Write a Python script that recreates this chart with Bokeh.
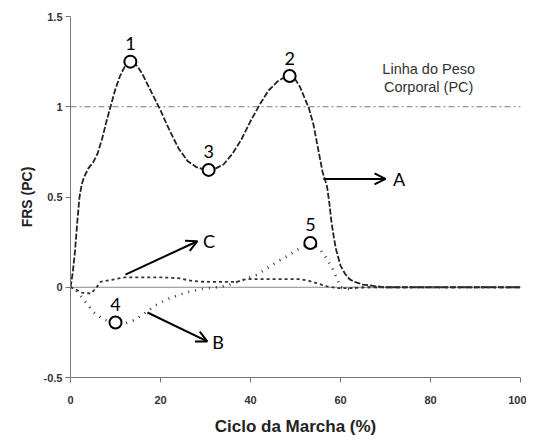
from bokeh.plotting import figure
from bokeh.models import Range1d, Arrow, OpenHead, ColumnDataSource, FixedTicker
from bokeh.core.properties import value
from bokeh.embed import file_html
from bokeh.resources import INLINE

# Curve A (vertical GRF)
a_x = [0, 0.5, 1, 1.5, 2, 2.5, 3, 4, 5, 6, 7, 8, 9, 10, 11, 12, 13, 14, 15, 16, 17, 18, 19, 20,
       22, 24, 26, 28, 30, 31, 32, 34, 36, 38, 40, 42, 44, 46, 48, 49, 50, 51, 52, 53, 54, 55, 56,
       57, 57.5, 58, 58.5, 59, 60, 61, 62, 63, 65, 68, 70, 100]
a_y = [0, 0.08, 0.2, 0.36, 0.5, 0.57, 0.61, 0.66, 0.69, 0.74, 0.82, 0.92, 1.01, 1.1, 1.17, 1.22, 1.25, 1.245, 1.22, 1.18, 1.13, 1.08, 1.03, 0.98,
       0.87, 0.77, 0.7, 0.665, 0.65, 0.65, 0.655, 0.68, 0.74, 0.82, 0.92, 1.01, 1.09, 1.14, 1.17, 1.17, 1.15, 1.11, 1.05, 0.99, 0.9, 0.77, 0.64,
       0.56, 0.47, 0.36, 0.28, 0.21, 0.12, 0.075, 0.045, 0.03, 0.015, 0.005, 0, 0]

# Curve B (dotted)
b_x = [0, 1, 2, 3.3, 5.2, 7.4, 10, 12.2, 14.4, 16.7, 18.9, 21.1, 23.3, 25.6, 28.1, 30.4, 32.7, 35, 37,
       38.9, 41.5, 44, 46.2, 48.7, 50.9, 53.3, 55.3, 56.9, 58.2, 59.3, 60, 62, 64, 100]
b_y = [0, -0.01, -0.04, -0.08, -0.14, -0.18, -0.195, -0.2, -0.18, -0.14, -0.1, -0.07, -0.05, -0.03, -0.015, -0.005, 0, 0.01, 0.03,
       0.045, 0.07, 0.11, 0.145, 0.18, 0.215, 0.245, 0.215, 0.16, 0.105, 0.045, 0, -0.01, 0, 0]

# Curve C (dashed)
c_x = [0, 1, 2.5, 4.5, 5.5, 6.7, 9, 12, 16, 20, 24, 27, 30, 34, 37, 39, 45, 51, 53, 55, 57, 59.5, 62, 66, 100]
c_y = [0, -0.01, -0.03, -0.035, -0.01, 0.03, 0.04, 0.055, 0.055, 0.055, 0.05, 0.035, 0.03, 0.03, 0.03, 0.045, 0.045, 0.045, 0.035, 0.02, 0.005, -0.005, -0.005, 0, 0]

# Marked points
pt_x = [13.3, 48.7, 30.7, 10, 53.3]
pt_y = [1.25, 1.17, 0.65, -0.195, 0.245]
pt_lbl = ["1", "2", "3", "4", "5"]

# Arrows and their letters
arr_x0 = [56.2, 12.2, 17.1]
arr_y0 = [0.6, 0.07, -0.14]
arr_x1 = [70, 28.2, 30.4]
arr_y1 = [0.6, 0.255, -0.3]
arr_lbl = ["A", "C", "B"]
arr_lx = [73, 30.8, 32.8]
arr_ly = [0.6, 0.255, -0.305]

x_ticks = [0, 20, 40, 60, 80, 100]
y_ticks = [-0.5, 0, 0.5, 1, 1.5]
y_tick_lbl = {-0.5: "-0.5", 0: "0", 0.5: "0.5", 1: "1", 1.5: "1.5"}

p = figure(width=526, height=439, output_backend="svg", toolbar_location=None,
           x_range=Range1d(0, 100), y_range=Range1d(-0.5, 1.5),
           min_border_left=70, min_border_right=6, min_border_top=16, min_border_bottom=62)
p.outline_line_color = None
p.xgrid.visible = False
p.ygrid.visible = False
p.background_fill_color = "white"

for ax in (p.xaxis[0], p.yaxis[0]):
    ax.axis_line_color = "#777777"
    ax.major_tick_line_color = "#777777"
    ax.minor_tick_line_color = None
    ax.major_tick_in = 0
    ax.major_tick_out = 5
    ax.major_label_text_font = "Liberation Sans"
    ax.major_label_text_font_style = "bold"
    ax.major_label_text_font_size = "11px"
    ax.major_label_text_color = "#333333"
    ax.axis_label_text_font = "Liberation Sans"
    ax.axis_label_text_font_style = "bold"
    ax.axis_label_text_color = "#222222"

p.xaxis.ticker = FixedTicker(ticks=x_ticks)
p.yaxis.ticker = FixedTicker(ticks=y_ticks)
p.yaxis.major_label_overrides = y_tick_lbl
p.xaxis.major_label_standoff = 13
p.yaxis.major_label_standoff = 3
p.xaxis.axis_label = "Ciclo da Marcha (%)"
p.yaxis.axis_label = "FRS (PC)"
p.xaxis.axis_label_text_font_size = "17px"
p.yaxis.axis_label_text_font_size = "14px"
p.xaxis.axis_label_standoff = 10
p.yaxis.axis_label_standoff = 6

# zero line and body-weight line
p.line([0, 100], [0, 0], line_color="#888888", line_width=1)
p.line([0, 100], [1, 1], line_color="#777777", line_width=1, line_dash="6 3 2 3")

p.line(a_x, a_y, line_color="#222222", line_width=1.8, line_dash="6 2")
p.line(c_x, c_y, line_color="#333333", line_width=1.8, line_dash="3 3")
p.line(b_x, b_y, line_color="#333333", line_width=2.6, line_dash="1 6")

p.scatter(pt_x, pt_y, marker="circle", size=12, fill_color="white",
          line_color="black", line_width=2)

lbl_src = ColumnDataSource(dict(x=pt_x, y=[v + 0.1 for v in pt_y], t=pt_lbl))
p.text(x="x", y="y", text="t", source=lbl_src, text_font=value("Lato"),
       text_font_size="18px", text_align="center", text_baseline="middle", text_color="black")

for x0, y0, x1, y1 in zip(arr_x0, arr_y0, arr_x1, arr_y1):
    p.add_layout(Arrow(x_start=x0, y_start=y0, x_end=x1, y_end=y1, line_width=2,
                       line_color="black",
                       end=OpenHead(size=11, line_width=2, line_color="black")))

arr_src = ColumnDataSource(dict(x=arr_lx, y=arr_ly, t=arr_lbl))
p.text(x="x", y="y", text="t", source=arr_src, text_font=value("Lato"),
       text_font_size="18px", text_align="center", text_baseline="middle", text_color="black")

note_src = ColumnDataSource(dict(x=[79.6, 79.6], y=[1.21, 1.11], t=["Linha do Peso", "Corporal (PC)"]))
p.text(x="x", y="y", text="t", source=note_src, text_font=value("Liberation Sans"),
       text_font_size="14.5px", text_align="center", text_baseline="middle", text_color="#333333")

open("out.html", "w").write(file_html(p, INLINE))
